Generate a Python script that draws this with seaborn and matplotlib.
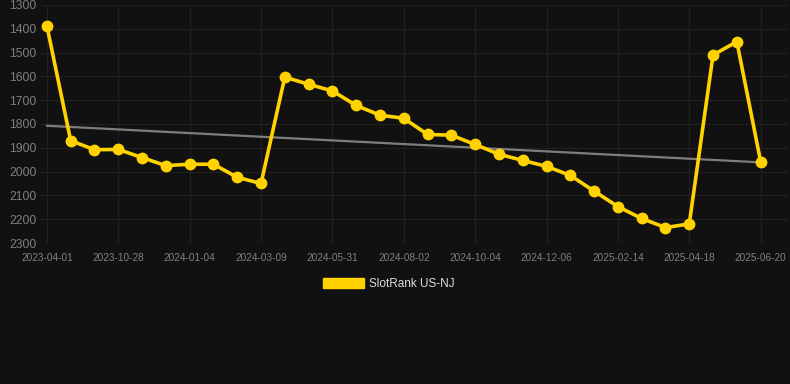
import numpy as np
import pandas as pd
import matplotlib
matplotlib.use("Agg")
import matplotlib.pyplot as plt
import seaborn as sns
from matplotlib.patches import Patch

# ---- data ----
ranks = [1388, 1870, 1908, 1907, 1941, 1975, 1969, 1969, 2024, 2050,
         1603, 1633, 1661, 1722, 1763, 1776, 1844, 1847, 1886, 1927,
         1953, 1978, 2016, 2082, 2147, 2197, 2235, 2220, 1510, 1454, 1958]
tick_labels = ["2023-04-01", "2023-10-28", "2024-01-04", "2024-03-09",
               "2024-05-31", "2024-08-02", "2024-10-04", "2024-12-06",
               "2025-02-14", "2025-04-18", "2025-06-20"]
y_ticks = [1300, 1400, 1500, 1600, 1700, 1800, 1900, 2000, 2100, 2200, 2300]
series_name = "SlotRank US-NJ"

df = pd.DataFrame({"idx": np.arange(len(ranks)), "rank": ranks})

# ---- style ----
sns.set_theme(style="dark")
bg = "#111111"
plt.rcParams["font.family"] = ["Liberation Sans", "DejaVu Sans"]
gold = "#FFD200"

fig = plt.figure(figsize=(7.9, 3.84), dpi=100, facecolor=bg)
ax = fig.add_axes([40 / 790, 1 - 243 / 384, 748 / 790, 238 / 384])
ax.set_facecolor(bg)

# trend line (linear fit on data)
coef = np.polyfit(df["idx"], df["rank"], 1)
trend = np.polyval(coef, df["idx"])
sns.lineplot(x=df["idx"], y=trend, ax=ax, color="#8a8a8a", linewidth=1.6,
             alpha=0.9, zorder=2)

sns.lineplot(data=df, x="idx", y="rank", ax=ax, color=gold, linewidth=2.6,
             marker="o", markersize=8.5, markeredgewidth=0, zorder=3)

ax.set_xlim(-0.29, 31.15)
ax.set_ylim(2300, 1300)
ax.set_yticks(y_ticks)
ax.set_yticklabels([str(v) for v in y_ticks])
ax.set_xticks(np.arange(0, len(ranks), 3))
ax.set_xticklabels(tick_labels)

ax.grid(True, color="#202020", linewidth=0.9)
for s in ax.spines.values():
    s.set_visible(False)
ax.tick_params(axis="y", length=0, pad=2.5, labelsize=8.8, labelcolor="#808080")
ax.tick_params(axis="x", length=0, pad=7, labelsize=7.2, labelcolor="#808080")
ax.set_xlabel("")
ax.set_ylabel("")

leg = fig.legend(handles=[Patch(facecolor=gold, edgecolor=gold, label=series_name)],
                 loc="center", bbox_to_anchor=(389 / 790, 1 - 284 / 384),
                 frameon=False, fontsize=8.5, handlelength=3.4, handleheight=1.0,
                 handletextpad=0.45, labelcolor="#dddddd")

fig.savefig("out.png", dpi=100, facecolor=bg)
